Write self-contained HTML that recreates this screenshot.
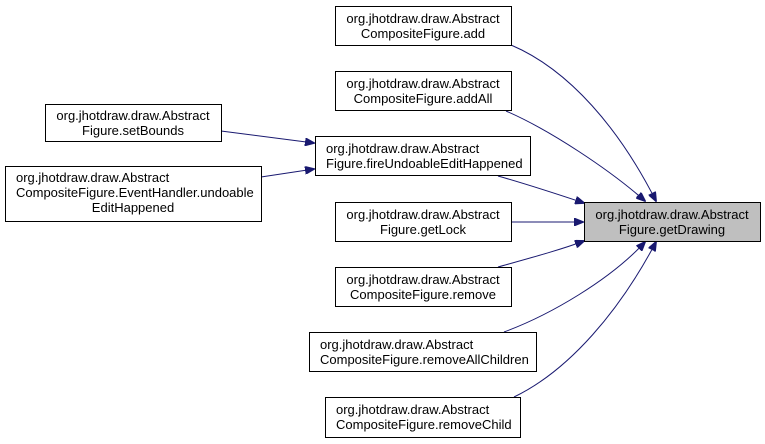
<!DOCTYPE html>
<html><head><style>
body{margin:0;background:#fff;width:765px;height:444px;overflow:hidden}
svg{position:absolute;left:0;top:0}
text{font-family:"Liberation Sans",Arial,sans-serif;font-size:13px;fill:#000}
</style></head><body>
<svg width="765" height="444" viewBox="0 0 765 444">
<defs><marker id="a" markerWidth="10" markerHeight="8" refX="9" refY="4" orient="auto" markerUnits="userSpaceOnUse"><path d="M0,0 L10,4 L0,8 Z" fill="#191970" stroke="#191970"/></marker></defs>
<g fill="none" stroke="#191970" stroke-width="1" marker-end="url(#a)">
<path d="M511,45 C570,70 620,130 656,201"/>
<path d="M506,111 C550,130 610,170 645,201"/>
<path d="M498,176 C530,185 560,195 584,203"/>
<path d="M511,222 L583,222"/>
<path d="M498,267 C530,258 560,250 584,241"/>
<path d="M504,332 C550,315 610,280 645,242"/>
<path d="M514,397 C570,370 620,310 656,242"/>
<path d="M221,131 L314,143"/>
<path d="M261,177 L314,169"/>
</g>
<g stroke="#000" stroke-width="1" fill="#fff">
<rect x="335.5" y="6.5" width="176" height="39"/>
<rect x="335.5" y="71.5" width="176" height="39"/>
<rect x="315.5" y="136.5" width="215" height="39"/>
<rect x="335.5" y="202.5" width="176" height="39"/>
<rect x="335.5" y="267.5" width="176" height="39"/>
<rect x="309.5" y="332.5" width="227" height="39"/>
<rect x="325.5" y="397.5" width="195" height="40"/>
<rect x="45.5" y="104.5" width="176" height="37"/>
<rect x="5.5" y="166.5" width="256" height="55"/>
<rect x="584.5" y="202.5" width="176" height="39" fill="#bfbfbf"/>
</g>
<g text-anchor="middle">
<text x="423" y="23">org.jhotdraw.draw.Abstract</text><text x="423" y="38">CompositeFigure.add</text>
<text x="423" y="88">org.jhotdraw.draw.Abstract</text><text x="423" y="103">CompositeFigure.addAll</text>
<text x="423" y="219">org.jhotdraw.draw.Abstract</text><text x="423" y="234">Figure.getLock</text>
<text x="423" y="284">org.jhotdraw.draw.Abstract</text><text x="423" y="299">CompositeFigure.remove</text>
<text x="133" y="120">org.jhotdraw.draw.Abstract</text><text x="133" y="135">Figure.setBounds</text>
<text x="133" y="212">EditHappened</text>
<text x="672" y="219">org.jhotdraw.draw.Abstract</text><text x="672" y="234">Figure.getDrawing</text>
</g>
<text x="326" y="153">org.jhotdraw.draw.Abstract</text><text x="326" y="168">Figure.fireUndoableEditHappened</text>
<text x="320" y="349">org.jhotdraw.draw.Abstract</text><text x="320" y="364">CompositeFigure.removeAllChildren</text>
<text x="336" y="414">org.jhotdraw.draw.Abstract</text><text x="336" y="429">CompositeFigure.removeChild</text>
<text x="16" y="182">org.jhotdraw.draw.Abstract</text><text x="16" y="197">CompositeFigure.EventHandler.undoable</text>
</svg>
</body></html>
